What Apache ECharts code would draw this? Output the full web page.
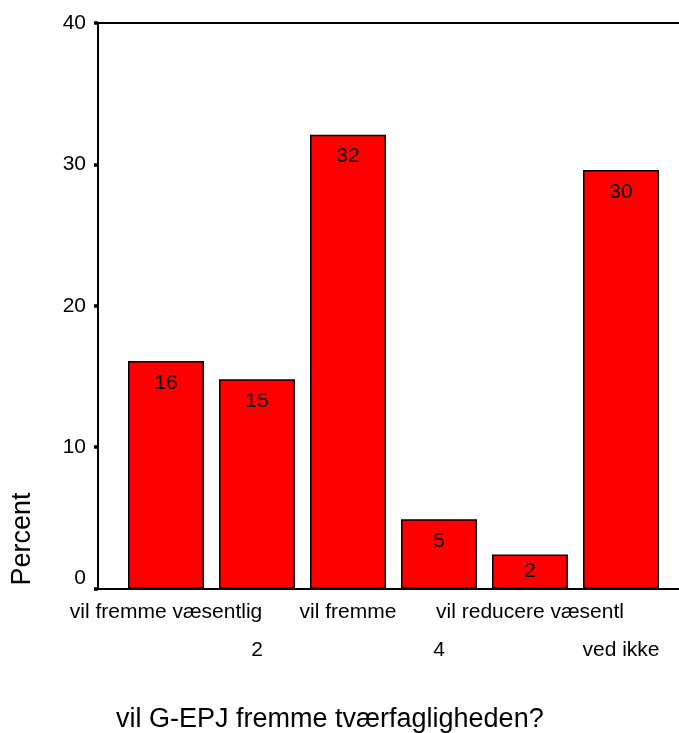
<!DOCTYPE html>
<html>
<head>
<meta charset="utf-8">
<script src="https://cdn.jsdelivr.net/npm/echarts@6/dist/echarts.min.js"></script>
<style>
  html, body { margin: 0; padding: 0; background: #fff; }
  #chart { width: 679px; height: 733px; }
</style>
</head>
<body>
<div id="chart"></div>
<script>
// answers to "vil G-EPJ fremme tværfagligheden?" (percent)
const categories = ['vil fremme væsentlig', '2', 'vil fremme', '4', 'vil reducere væsentl', 'ved ikke']
const percents = [16.1, 14.8, 32.1, 4.9, 2.4, 29.6]
const yTicks = { min: 0, max: 40, interval: 10 }

const font = 'Liberation Sans, Arial, sans-serif'

const chart = echarts.init(document.getElementById('chart'))

chart.setOption({
  animation: false,
  title: {
    text: 'vil G-EPJ fremme tværfagligheden?',
    left: 111,
    top: 701,
    textStyle: { fontFamily: font, fontSize: 27, fontWeight: 'normal', color: '#000' }
  },
  graphic: [{
    type: 'text',
    x: 23,
    y: 539,
    rotation: Math.PI / 2,
    style: {
      text: 'Percent',
      font: '27px ' + font,
      fill: '#000',
      align: 'center',
      verticalAlign: 'middle'
    }
  }],
  grid: [
    { left: 120.5, right: 12.5, top: 23, bottom: 144.5 },
    { left: 98, right: 0, top: 23, bottom: 144.5 }
  ],
  xAxis: [{
    type: 'category',
    gridIndex: 0,
    data: categories,
    axisLine: { show: false },
    axisTick: { alignWithLabel: true, length: 5, lineStyle: { width: 4, color: '#000' } },
    axisLabel: {
      interval: 0,
      margin: 14,
      lineHeight: 19,
      fontFamily: font,
      fontSize: 21,
      color: '#000',
      // every second label goes on a lower row
      formatter: (v, i) => (i % 2 ? '\n\n' + v : v)
    }
  }, {
    // frame lines that run the full width
    type: 'value',
    gridIndex: 1,
    position: 'bottom',
    min: 0,
    max: 1,
    axisLine: { show: true, lineStyle: { color: '#000', width: 2 } },
    axisTick: { show: false },
    axisLabel: { show: false },
    splitLine: { show: false }
  }, {
    type: 'value',
    gridIndex: 1,
    position: 'top',
    min: 0,
    max: 1,
    axisLine: { show: true, lineStyle: { color: '#000', width: 2 } },
    axisTick: { show: false },
    axisLabel: { show: false },
    splitLine: { show: false }
  }],
  yAxis: [{
    type: 'value',
    gridIndex: 0,
    min: yTicks.min,
    max: yTicks.max,
    interval: yTicks.interval,
    offset: 22.5,
    axisLine: { show: true, lineStyle: { color: '#000', width: 2 } },
    axisTick: { show: true, length: 4, lineStyle: { width: 3.5, color: '#000' } },
    axisLabel: {
      margin: 12,
      fontFamily: font,
      fontSize: 21,
      color: '#000',
      formatter: v => (v === 0 ? '{z|0}' : String(v)),
      rich: { z: { fontFamily: font, fontSize: 21, color: '#000', padding: [0, 0, 20, 0] } }
    },
    splitLine: { show: false }
  }, {
    type: 'value',
    gridIndex: 1,
    min: 0,
    max: 1,
    show: false
  }],
  series: [{
    name: 'Percent',
    type: 'bar',
    xAxisIndex: 0,
    yAxisIndex: 0,
    barWidth: 76,
    data: percents.map(v => ({
      value: v,
      label: v < 3 ? { position: 'inside' } : undefined
    })),
    itemStyle: { color: '#ff0000', borderColor: '#000', borderWidth: 1.5 },
    label: {
      show: true,
      position: 'insideTop',
      distance: 11.5,
      fontFamily: font,
      fontSize: 21,
      color: '#000',
      formatter: p => Math.round(p.value)
    }
  }]
})
</script>
</body>
</html>
